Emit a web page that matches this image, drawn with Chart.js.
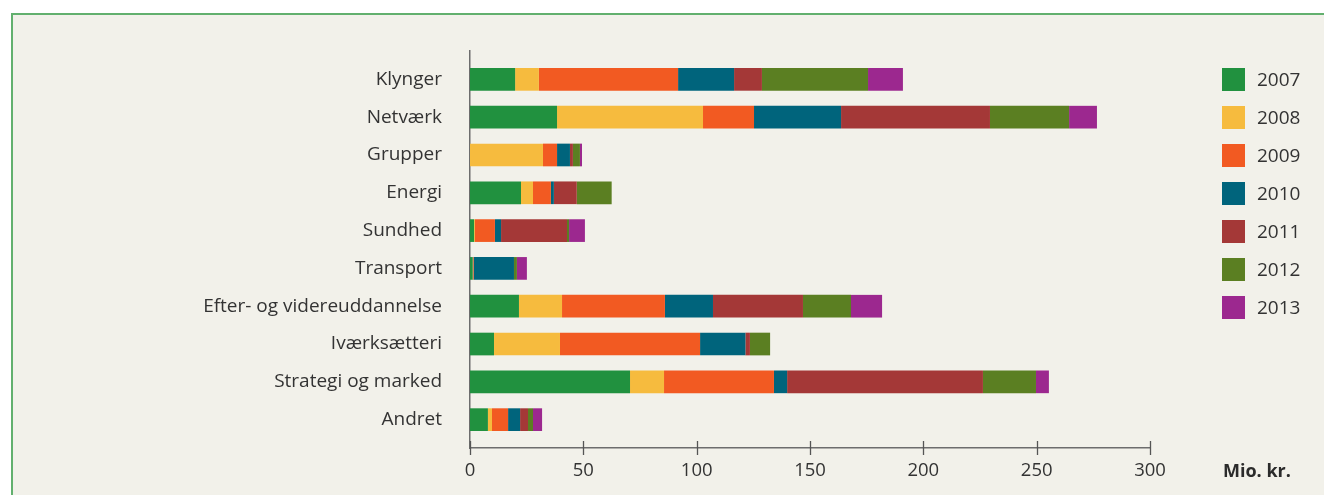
<!DOCTYPE html>
<html>
<head>
<meta charset="utf-8">
<script src="https://cdn.jsdelivr.net/npm/chart.js@4"></script>
<style>
  html, body { margin: 0; padding: 0; background: #ffffff; }
  body { width: 1324px; height: 495px; position: relative; overflow: hidden; font-family: "Open Sans", sans-serif; }
  #ramme { position: absolute; left: 11px; top: 13px; width: 1340px; height: 520px; background: #f2f1ea; border: 2px solid #62b06e; }
  #wrap { position: absolute; left: 0; top: 0; width: 1324px; height: 495px; }
  #legende { position: absolute; left: 1222px; top: 68px; }
  .item { height: 38px; display: flex; align-items: flex-start; }
  .boks { width: 23px; height: 23px; margin-right: 12px; }
  .tekst { font-size: 19px; color: #333; line-height: 23px; }
  #enhed { position: absolute; left: 1223px; top: 458px; font-size: 18px; font-weight: bold; color: #2b2b2b; }
</style>
</head>
<body>
<div id="ramme"></div>
<div id="wrap"><canvas id="graf" width="1324" height="495"></canvas></div>
<div id="legende"></div>
<div id="enhed">Mio. kr.</div>
<script>
// Kategorier og værdier (mio. kr.)
const kategorier = ['Klynger', 'Netværk', 'Grupper', 'Energi', 'Sundhed', 'Transport',
  'Efter- og videreuddannelse', 'Iværksætteri', 'Strategi og marked', 'Andret'];
const aar = ['2007', '2008', '2009', '2010', '2011', '2012', '2013'];
const farver = ['#21913f', '#f6bb3e', '#f25a22', '#00647c', '#a43837', '#5b7f22', '#9c288f'];

const v2007 = [19.9, 38.4, 0, 22.5, 1.8, 1.2, 21.6, 10.6, 70.6, 7.9];
const v2008 = [10.5, 64.4, 32.2, 5.3, 0.4, 0, 19.0, 29.1, 15.0, 1.8];
const v2009 = [61.4, 22.5, 6.2, 7.9, 8.8, 0.4, 45.4, 61.8, 48.5, 7.1];
const v2010 = [24.7, 38.4, 5.7, 1.3, 2.7, 17.8, 21.2, 20.0, 5.8, 5.3];
const v2011 = [12.3, 65.7, 1.3, 10.1, 29.1, 0, 39.7, 2.0, 86.4, 3.5];
const v2012 = [46.8, 34.9, 3.1, 15.4, 0.9, 1.3, 21.2, 8.9, 23.4, 2.2];
const v2013 = [15.4, 12.3, 0.9, 0, 7.0, 4.4, 13.7, 0, 5.7, 4.0];
const serier = [v2007, v2008, v2009, v2010, v2011, v2012, v2013];

const xTicks = [0, 50, 100, 150, 200, 250, 300];

const datasets = serier.map((vals, s) => ({
    label: aar[s],
    data: vals.map((v, i) => ({ x: v, y: i })),
    backgroundColor: farver[s],
    borderWidth: 0,
    categoryPercentage: 0.8,
    barPercentage: 0.75
}));

// Tickmærker der krydser x-aksen (over og under linjen)
const krydsTicks = {
    id: 'krydsTicks',
    afterDraw(chart) {
        const ctx = chart.ctx;
        const x = chart.scales.x;
        const y0 = chart.chartArea.bottom;
        ctx.save();
        ctx.strokeStyle = '#555';
        ctx.lineWidth = 1.3;
        x.ticks.forEach((t, i) => {
            const px = Math.round(x.getPixelForTick(i)) + 0.5;
            ctx.beginPath();
            ctx.moveTo(px, y0 - 7);
            ctx.lineTo(px, y0 + 7);
            ctx.stroke();
        });
        ctx.restore();
    }
};

new Chart(document.getElementById('graf'), {
    type: 'bar',
    data: { datasets: datasets },
    options: {
        indexAxis: 'y',
        responsive: false,
        animation: false,
        layout: { padding: { top: 51, right: 174, left: 0, bottom: 0 } },
        plugins: { legend: { display: false }, tooltip: { enabled: false } },
        scales: {
            x: {
                type: 'linear',
                stacked: true,
                min: 0,
                max: 300,
                afterBuildTicks: s => { s.ticks = xTicks.map(v => ({ value: v })); },
                afterFit: s => { s.height = 47; },
                grid: { display: false, drawTicks: false },
                border: { display: true, color: '#6d6d6d', width: 1.5 },
                ticks: { padding: 12, color: '#333', font: { family: 'Open Sans', size: 18.5 } }
            },
            y: {
                type: 'linear',
                stacked: true,
                reverse: true,
                offset: false,
                min: -0.75,
                max: kategorier.length - 0.25,
                afterBuildTicks: s => { s.ticks = kategorier.map((_, i) => ({ value: i })); },
                afterFit: s => { s.width = 470; },
                grid: { display: false, drawTicks: false, offset: false },
                border: { display: true, color: '#6d6d6d', width: 1.5 },
                ticks: {
                    padding: 28,
                    color: '#333',
                    font: { family: 'Open Sans', size: 19 },
                    callback: v => kategorier[v]
                }
            }
        }
    },
    plugins: [krydsTicks]
});

// Legende
const legende = document.getElementById('legende');
aar.forEach((a, s) => {
    const el = document.createElement('div');
    el.className = 'item';
    el.innerHTML = `<div class="boks" style="background:${farver[s]}"></div><div class="tekst">${a}</div>`;
    legende.appendChild(el);
});
</script>
</body>
</html>
